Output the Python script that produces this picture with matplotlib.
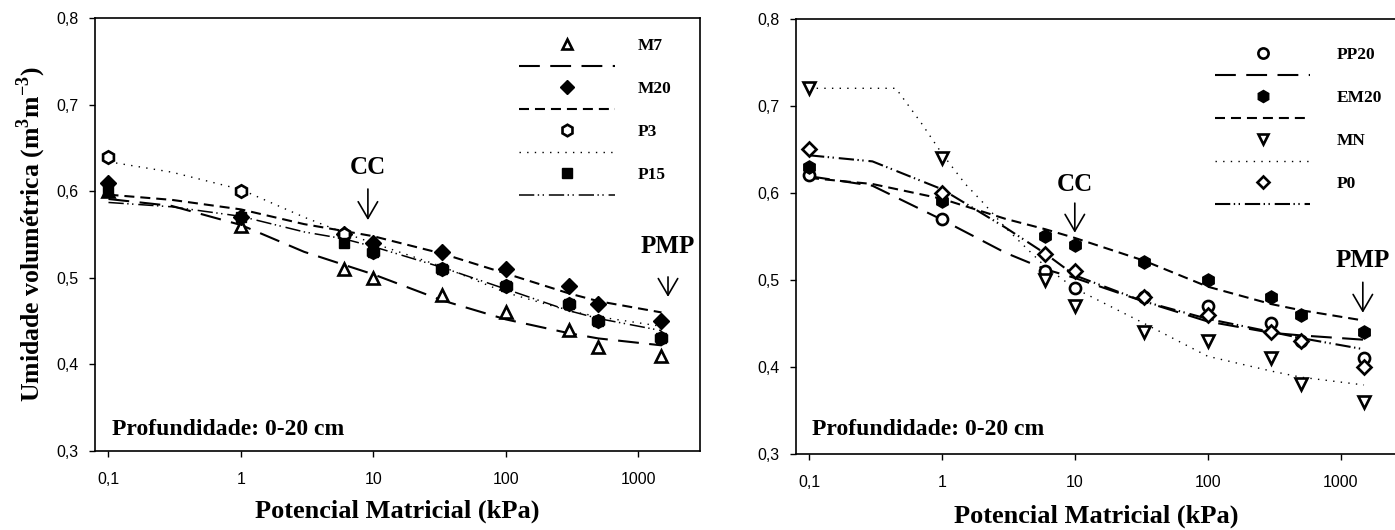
import matplotlib
matplotlib.use('Agg')
import matplotlib.pyplot as plt
from matplotlib.lines import Line2D

plt.rcParams['lines.scale_dashes'] = False
plt.rcParams['mathtext.fontset'] = 'custom'
plt.rcParams['mathtext.rm'] = 'Liberation Serif'
plt.rcParams['mathtext.bf'] = 'Liberation Serif:bold'

# pressure steps (kPa) where water content was measured
psi = [0.1, 1, 6, 10, 33, 100, 300, 500, 1500]

# left panel - measured points
m7 = [0.60, 0.56, 0.51, 0.50, 0.48, 0.46, 0.44, 0.42, 0.41]
m20 = [0.61, 0.57, 0.55, 0.54, 0.53, 0.51, 0.49, 0.47, 0.45]
p3 = [0.64, 0.60, 0.55, 0.53, 0.51, 0.49, 0.47, 0.45, 0.43]
p15 = [0.60, 0.57, 0.54, 0.53, 0.51, 0.49, 0.47, 0.45, 0.43]

# right panel - measured points
pp20 = [0.62, 0.57, 0.51, 0.49, 0.48, 0.47, 0.45, 0.43, 0.41]
em20 = [0.63, 0.59, 0.55, 0.54, 0.52, 0.50, 0.48, 0.46, 0.44]
mn = [0.72, 0.64, 0.50, 0.47, 0.44, 0.43, 0.41, 0.38, 0.36]
p0 = [0.65, 0.60, 0.53, 0.51, 0.48, 0.46, 0.44, 0.43, 0.40]

# fitted curves
fit_x = [0.1, 0.3, 1, 3, 6, 10, 33, 100, 300, 500, 1500]
m7_fit = [0.591, 0.583, 0.561, 0.530, 0.515, 0.504, 0.474, 0.452, 0.436, 0.430, 0.422]
m20_fit = [0.596, 0.590, 0.579, 0.562, 0.554, 0.548, 0.528, 0.505, 0.482, 0.473, 0.460]
p3_fit = [0.634, 0.622, 0.602, 0.570, 0.552, 0.540, 0.513, 0.483, 0.462, 0.455, 0.444]
p15_fit = [0.587, 0.582, 0.571, 0.553, 0.545, 0.536, 0.512, 0.487, 0.462, 0.453, 0.439]

pp20_fit = [0.619, 0.608, 0.569, 0.531, 0.512, 0.502, 0.475, 0.452, 0.439, 0.436, 0.431]
em20_fit = [0.617, 0.610, 0.593, 0.570, 0.558, 0.548, 0.522, 0.492, 0.472, 0.465, 0.453]
mn_x = [0.1, 0.2, 0.45, 0.7, 1, 1.5, 2, 3, 6, 10, 33, 100, 300, 500, 1500]
mn_fit = [0.720, 0.720, 0.720, 0.680, 0.645, 0.610, 0.590, 0.560, 0.515, 0.490, 0.450, 0.412, 0.395, 0.388, 0.379]
p0_fit = [0.643, 0.636, 0.604, 0.560, 0.530, 0.505, 0.475, 0.455, 0.440, 0.433, 0.420]

xticks = [0.1, 1, 10, 100, 1000]
xlabels = ['0,1', '1', '10', '100', '1000']
yticks = [0.3, 0.4, 0.5, 0.6, 0.7, 0.8]
ylabels = ['0,3', '0,4', '0,5', '0,6', '0,7', '0,8']

serif = 'Liberation Serif'
tickfont = 'Liberation Sans'

long_dash = (0, (15, 7.5))
short_dash = (0, (7.2, 4.3))
dotted = (0, (1, 4.5))
dash_dot_dot = (0, (11, 2.5, 1, 2.5, 1, 3.5))


def setup_axes(ax, xlim, xlab_y, prof_y):
    ax.set_xscale('log')
    ax.set_xlim(*xlim)
    ax.set_ylim(0.3, 0.8)
    ax.set_xticks(xticks)
    ax.set_xticklabels(xlabels, family=tickfont, fontsize=11.5)
    ax.minorticks_off()
    ax.set_yticks(yticks)
    ax.set_yticklabels(ylabels, family=tickfont, fontsize=11.5)
    ax.tick_params(axis='x', direction='out', length=4, width=1, pad=11)
    ax.tick_params(axis='y', direction='out', length=4, width=1, pad=8)
    for s in ax.spines.values():
        s.set_linewidth(1.2)
    ax.set_xlabel('Potencial Matricial (kPa)', family=serif, weight='bold',
                  fontsize=19)
    ax.xaxis.set_label_coords(0.5, xlab_y)
    ax.text(0.106, prof_y, 'Profundidade: 0-20 cm', family=serif,
            weight='bold', fontsize=17, va='center')


def mark(ax, x, txt, y_txt, y0, y1):
    ax.text(x, y_txt, txt, family=serif, weight='bold', fontsize=18,
            ha='center', va='center')
    ax.annotate('', xy=(x, y1), xytext=(x, y0),
                arrowprops=dict(arrowstyle='->,head_length=0.6,head_width=0.35',
                                mutation_scale=20, lw=1.2, color='k',
                                shrinkA=0, shrinkB=0))


def draw_panel(ax, series, pos, textpad):
    handles = []
    labels = []
    for name, y, mk, ms, filled, fx, fy, ls, lw in series:
        face = 'k' if filled else 'white'
        ew = 1.0 if filled else 1.9
        ax.plot(fx, fy, color='k', ls=ls, lw=lw, zorder=2)
        ax.plot(psi, y, ls='none', marker=mk, ms=ms, mfc=face, mec='k',
                mew=ew, zorder=3)
        handles.append(Line2D([], [], ls='none', marker=mk, ms=ms * 0.92,
                              mfc=face, mec='k', mew=ew))
        labels.append(name)
        handles.append(Line2D([], [], color='k', ls=ls, lw=lw))
        labels.append('')
    ax.legend(handles, labels, loc='upper left', bbox_to_anchor=pos,
              frameon=False, handlelength=5.5, handletextpad=textpad,
              labelspacing=0.31, borderpad=0, borderaxespad=0,
              prop={'family': serif, 'weight': 'bold', 'size': 12.5})


fig = plt.figure(figsize=(13.95, 5.3), dpi=100)
ax1 = fig.add_axes([95 / 1395, 79 / 530, 605 / 1395, 433 / 530])
ax2 = fig.add_axes([796 / 1395, 76.3 / 530, 600 / 1395, 435 / 530])

setup_axes(ax1, (0.0791, 2930), -0.112, 0.3243)
setup_axes(ax2, (0.0798, 2612), -0.118, 0.3283)

ax1.set_ylabel('Umidade volumétrica (m$^\\mathbf{3}$m$^\\mathbf{-3}$)',
               family=serif, weight='bold', fontsize=18.5)
ax1.yaxis.set_label_coords(-0.077, 0.5)

left_series = [
    ('M7', m7, '^', 8.0, False, fit_x, m7_fit, long_dash, 1.5),
    ('M20', m20, 'D', 7.8, True, fit_x, m20_fit, short_dash, 1.5),
    ('P3', p3, 'h', 9.0, False, fit_x, p3_fit, dotted, 1.0),
    ('P15', p15, 's', 7.8, True, fit_x, p15_fit, dash_dot_dot, 1.1),
]
right_series = [
    ('PP20', pp20, 'o', 8.0, False, fit_x, pp20_fit, long_dash, 1.5),
    ('EM20', em20, 'h', 9.5, True, fit_x, em20_fit, short_dash, 1.5),
    ('MN', mn, 'v', 8.0, False, mn_x, mn_fit, dotted, 1.0),
    ('P0', p0, 'D', 7.0, False, fit_x, p0_fit, dash_dot_dot, 1.5),
]

draw_panel(ax1, left_series, (0.701, 0.954), 1.32)
draw_panel(ax2, right_series, (0.698, 0.935), 1.55)

mark(ax1, 9.1, 'CC', 0.627, 0.6025, 0.5667)
mark(ax1, 1680, 'PMP', 0.5356, 0.501, 0.478)
mark(ax2, 10, 'CC', 0.609, 0.588, 0.554)
mark(ax2, 1470, 'PMP', 0.522, 0.497, 0.462)

fig.savefig('out.png', dpi=100)
